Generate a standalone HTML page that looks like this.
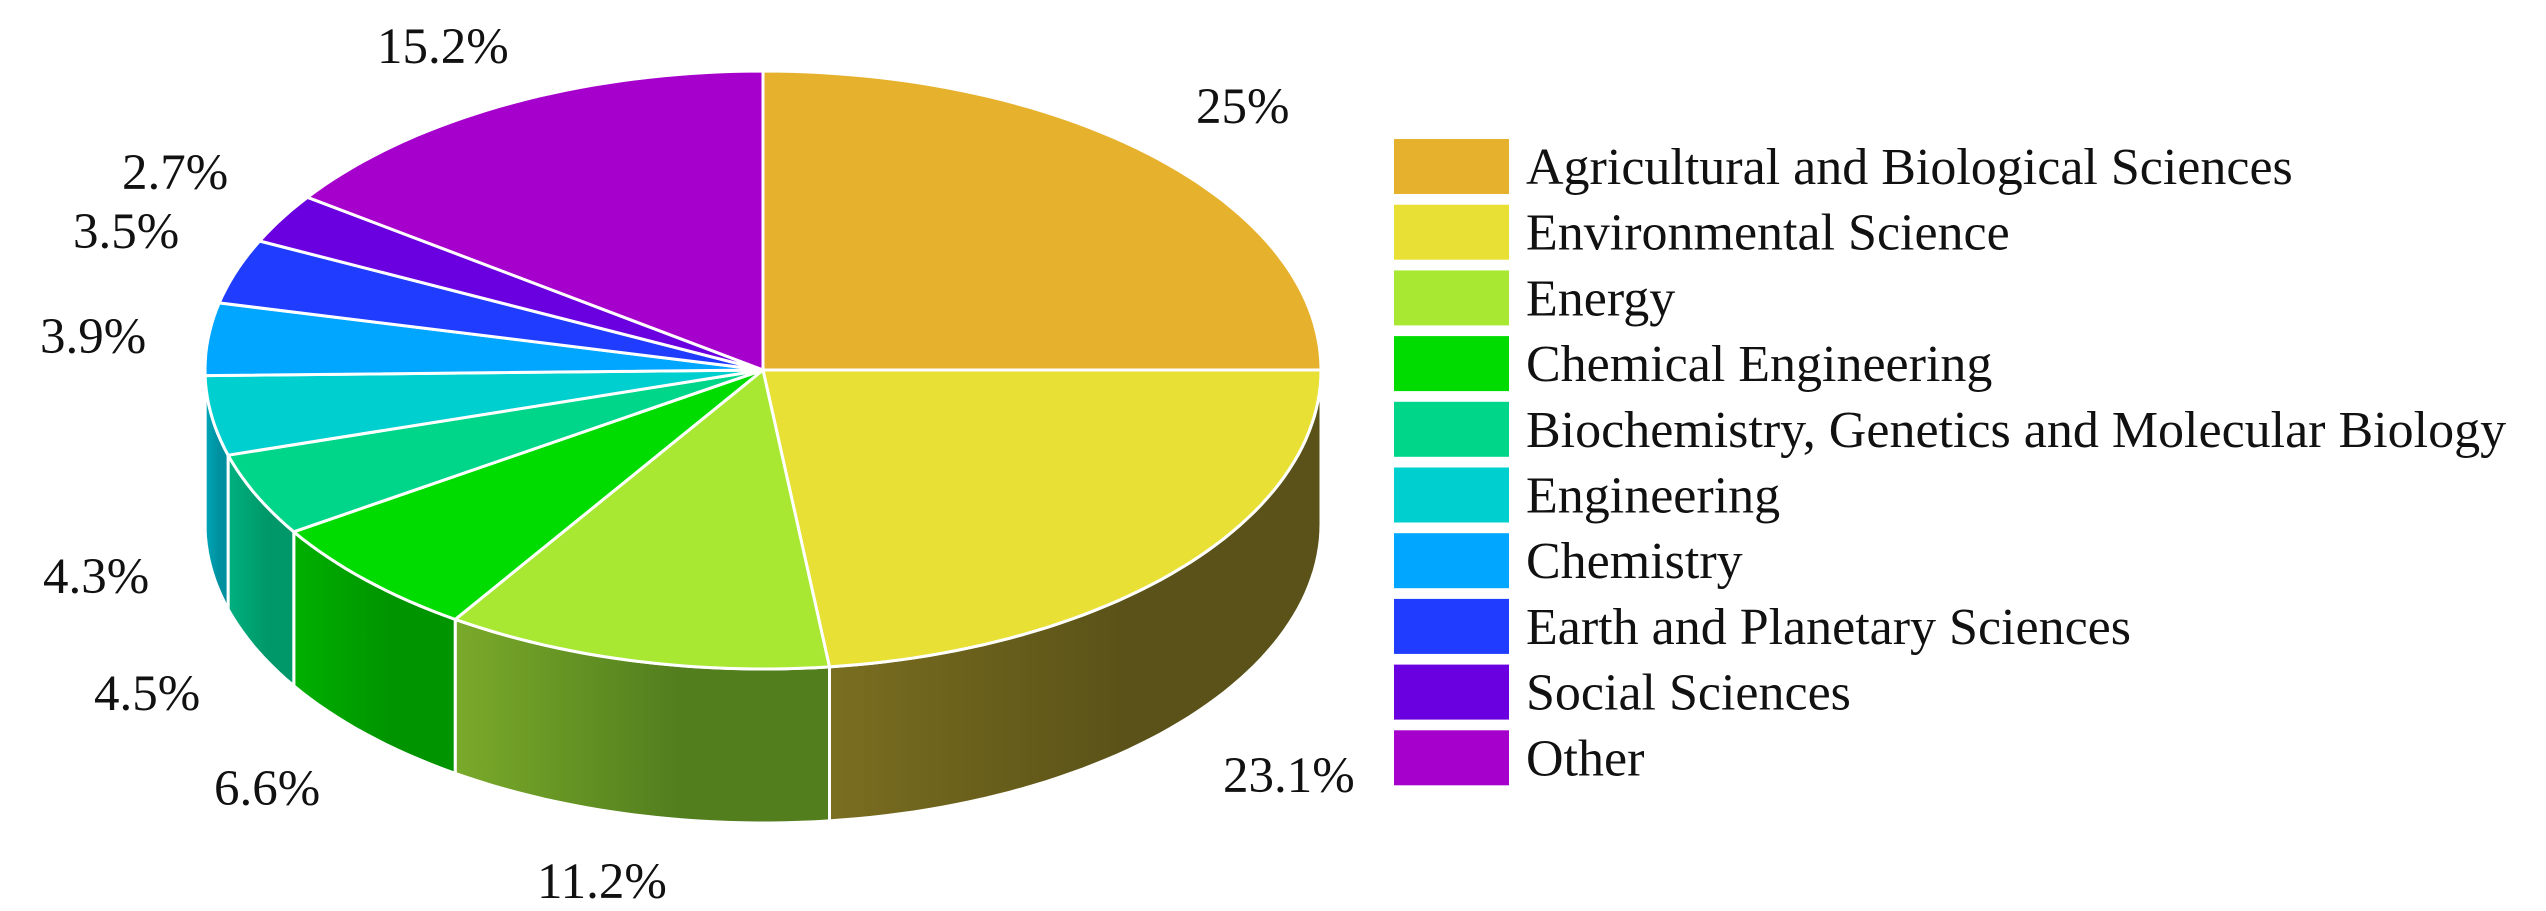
<!DOCTYPE html>
<html><head><meta charset="utf-8"><style>
html,body{margin:0;padding:0;background:#fff;}
svg{display:block;font-family:"Liberation Serif",serif;}
</style></head><body>
<svg id="chart" width="2546" height="911" viewBox="0 0 2546 911" xmlns="http://www.w3.org/2000/svg">
<defs id="defs"></defs>
<g id="sides"></g>
<g id="tops"></g>
<g id="labels"></g>
<g id="legend"></g>
</svg>
<script>
const categories = ["Agricultural and Biological Sciences","Environmental Science","Energy","Chemical Engineering","Biochemistry, Genetics and Molecular Biology","Engineering","Chemistry","Earth and Planetary Sciences","Social Sciences","Other"];
const values = [25, 23.1, 11.2, 6.6, 4.5, 4.3, 3.9, 3.5, 2.7, 15.2];
const valueLabels = ["25%","23.1%","11.2%","6.6%","4.5%","4.3%","3.9%","3.5%","2.7%","15.2%"];
const colors = ["#e6b22e","#e8e035","#a8e832","#00dc00","#00d68a","#00cfcf","#00a6ff","#1f3cff","#6a00e0","#a600cc"];
const sideLight = ["#c49020","#7a6e20","#7aaa2a","#00b000","#00b080","#00a8b8","#0088cc","#1830cc","#5500b0","#8800a8"];
const sideDark = ["#a07010","#5a5218","#527e1e","#009400","#009868","#0090a0","#0070aa","#1020aa","#440090","#700090"];
const labelPos = [[1196,123],[1223,792],[537,898],[214,805],[94,710],[43,593],[40,353],[73,248],[122,189],[377,63]];

const cx=763, cy=370, rx=558, ry=299, depth=154;
const NS="http://www.w3.org/2000/svg";
const total = values.reduce((a,b)=>a+b,0);
function pt(th, dy){ const r=th*Math.PI/180; return [cx+rx*Math.sin(r), cy-ry*Math.cos(r)+(dy||0)]; }
function arcPts(a0,a1,dy){ const p=[]; const n=Math.max(4,Math.ceil((a1-a0)/1.5)); for(let i=0;i<=n;i++){p.push(pt(a0+(a1-a0)*i/n,dy));} return p; }
const defs=document.getElementById('defs'), sides=document.getElementById('sides'), tops=document.getElementById('tops'), labels=document.getElementById('labels'), legend=document.getElementById('legend');
let acc=0;
values.forEach((v,i)=>{
  const a0=acc/total*360, a1=(acc+v)/total*360; acc+=v;
  const s0=Math.max(a0,90), s1=Math.min(a1,270);
  if(s1>s0){
    const g=document.createElementNS(NS,'linearGradient');
    g.setAttribute('id','sg'+i); g.setAttribute('gradientUnits','userSpaceOnUse');
    const pa=pt(s1), pb=pt(s0);
    g.setAttribute('x1',Math.min(pa[0],pb[0])); g.setAttribute('x2',Math.max(pa[0],pb[0])); g.setAttribute('y1',0); g.setAttribute('y2',0);
    g.innerHTML='<stop offset="0" stop-color="'+sideLight[i]+'"/><stop offset="0.6" stop-color="'+sideDark[i]+'"/><stop offset="1" stop-color="'+sideDark[i]+'"/>';
    defs.appendChild(g);
    const top=arcPts(s0,s1,0), bot=arcPts(s0,s1,depth).reverse();
    const path=document.createElementNS(NS,'path');
    path.setAttribute('d','M'+top.concat(bot).map(p=>p[0].toFixed(1)+','+p[1].toFixed(1)).join('L')+'Z');
    path.setAttribute('fill','url(#sg'+i+')'); path.setAttribute('stroke','#fff'); path.setAttribute('stroke-width','3');
    
    
    sides.appendChild(path);
  }
  const pts=arcPts(a0,a1,0);
  const tp=document.createElementNS(NS,'path');
  tp.setAttribute('d','M'+cx+','+cy+'L'+pts.map(p=>p[0].toFixed(1)+','+p[1].toFixed(1)).join('L')+'Z');
  tp.setAttribute('fill',colors[i]); tp.setAttribute('stroke','#fff'); tp.setAttribute('stroke-width','3'); tp.setAttribute('stroke-linejoin','round');
  
  
  tops.appendChild(tp);
  const t=document.createElementNS(NS,'text');
  t.setAttribute('x',labelPos[i][0]); t.setAttribute('y',labelPos[i][1]);
  t.setAttribute('font-size','51'); t.setAttribute('fill','#111');
  t.textContent=valueLabels[i];
  
  
  labels.appendChild(t);
  const y0=139+i*65.7;
  const r=document.createElementNS(NS,'rect');
  r.setAttribute('x',1394); r.setAttribute('y',y0); r.setAttribute('width',115); r.setAttribute('height',55); r.setAttribute('fill',colors[i]);
  
  
  legend.appendChild(r);
  const lt=document.createElementNS(NS,'text');
  lt.setAttribute('x',1526); lt.setAttribute('y',y0+45);
  lt.setAttribute('font-size','52'); lt.setAttribute('fill','#111');
  lt.textContent=categories[i];
  
  
  legend.appendChild(lt);
});
</script>
</body></html>
